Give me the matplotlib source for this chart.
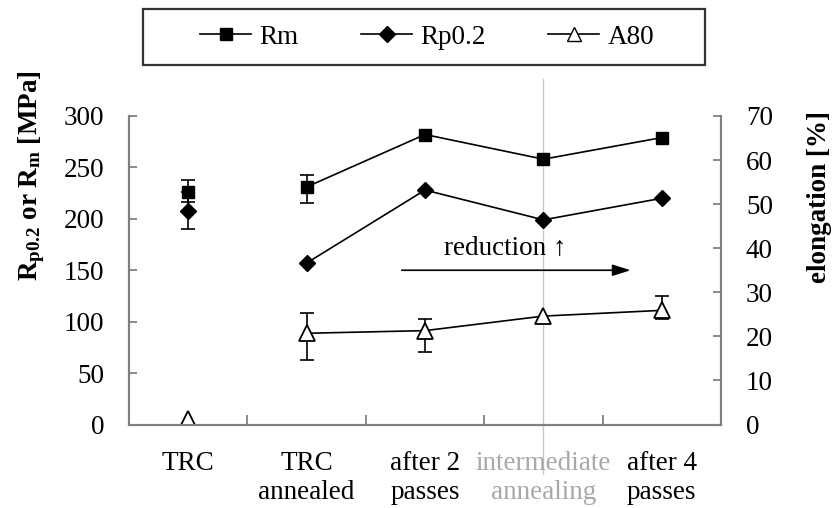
import matplotlib
matplotlib.use("Agg")
import matplotlib.pyplot as plt
from matplotlib.lines import Line2D
from matplotlib.patches import Rectangle
import numpy as np

plt.rcParams['font.family'] = ['Liberation Serif', 'DejaVu Serif']
plt.rcParams['mathtext.fontset'] = 'custom'
plt.rcParams['mathtext.rm'] = 'Liberation Serif'
plt.rcParams['mathtext.bf'] = 'Liberation Serif:bold'

# categories (x axis)
categories = ["TRC", "TRC\nannealed", "after 2\npasses", "intermediate\nannealing", "after 4\npasses"]

# strength [MPa], left axis (error bars: below / above)
rm = [226, 231, 282, 258, 279]
rm_err_lo = [10, 16, 0, 0, 0]
rm_err_hi = [12, 12, 0, 0, 0]
rp02 = [208, 157, 228, 199, 220]
rp02_err_lo = [18, 0, 0, 0, 0]
rp02_err_hi = [18, 0, 0, 0, 0]

# elongation [%], right axis
a80 = [1.2, 20.7, 21.3, 24.6, 25.9]
a80_err_lo = [0, 6.1, 4.9, 0, 2.0]
a80_err_hi = [0, 4.5, 2.7, 0, 3.2]

left_ticks = [0, 50, 100, 150, 200, 250, 300]
right_ticks = [0, 10, 20, 30, 40, 50, 60, 70]

FS = 19.5
axis_grey = "#808080"
err_kw = dict(fmt="none", ecolor="black", elinewidth=1.2, capsize=5, capthick=1.2)

fig = plt.figure(figsize=(8.4, 5.08), dpi=100)
ax = fig.add_axes([129 / 840, 1 - 424.5 / 508, 592 / 840, 308.5 / 508])
ax2 = ax.twinx()

x = np.arange(len(categories))


def draw_series(axis, vals, lo, hi, **mkw):
    vals = np.array(vals, dtype=float)
    lo = np.array(lo, dtype=float)
    hi = np.array(hi, dtype=float)
    m = (lo > 0) | (hi > 0)
    if m.any():
        axis.errorbar(x[m], vals[m], yerr=[lo[m], hi[m]], **err_kw)
    # TRC point stands alone, the rest are joined
    axis.plot(x[:1], vals[:1], ls="none", **mkw)
    axis.plot(x[1:], vals[1:], color="black", lw=1.2, **mkw)


draw_series(ax, rm, rm_err_lo, rm_err_hi, marker="s", ms=9, mfc="black", mec="black")
draw_series(ax, rp02, rp02_err_lo, rp02_err_hi, marker="D", ms=8, mfc="black", mec="black")
draw_series(ax2, a80, a80_err_lo, a80_err_hi, marker="^", ms=12, mfc="white",
            mec="black", mew=1.3)

ax.set_xlim(-0.5, len(categories) - 0.5)
ax.set_ylim(0, 300)
ax2.set_ylim(0, 70)
ax.set_yticks(left_ticks)
ax2.set_yticks(right_ticks)

# category boundaries as ticks, labels centred
ax.set_xticks(np.arange(len(categories) - 1) + 0.5)
ax.set_xticklabels([])
ax.set_xticks(x, minor=True)
ax.set_xticklabels(categories, minor=True, fontsize=FS, linespacing=1.2)
ax.tick_params(axis="x", which="minor", length=0, pad=19)
ax.tick_params(axis="x", which="major", direction="in", length=7, color=axis_grey, width=1.3)
ax.get_xticklabels(minor=True)[3].set_color("#a8a8a8")

ax.tick_params(axis="y", direction="in", length=6, color=axis_grey, width=1.3,
               labelsize=FS, pad=18)
ax2.tick_params(axis="y", direction="in", length=6, color=axis_grey, width=1.3,
                labelsize=FS, pad=18)

for a in (ax, ax2):
    a.spines["top"].set_visible(False)
    for s in ("left", "right", "bottom"):
        a.spines[s].set_color(axis_grey)
        a.spines[s].set_linewidth(1.5)

# vertical marker at intermediate annealing
ax.axvline(3, ymin=-0.16, ymax=1.12, color="#c8c8c8", lw=1.0, clip_on=False, zorder=0)

# reduction arrow
ax.annotate("", xy=(3.76, 150), xytext=(1.78, 150),
            arrowprops=dict(arrowstyle="-|>,head_length=1.1,head_width=0.35",
                            color="black", lw=1.2))
ax.text(2.68, 172, "reduction \u2191", fontsize=FS, ha="center", va="center")

# axis titles
fig.text(32 / 840, 1 - 176 / 508, r"$\mathbf{R_{p0.2}}$ or $\mathbf{R_m}$ [MPa]",
         fontsize=FS, fontweight="bold", rotation=90, ha="center", va="center")
fig.text(820 / 840, 1 - 197 / 508, "elongation [%]", fontsize=FS,
         fontweight="bold", rotation=90, ha="center", va="center")

# legend box
handles = [
    Line2D([], [], color="black", marker="s", ms=9, lw=1.2),
    Line2D([], [], color="black", marker="D", ms=8, lw=1.2),
    Line2D([], [], color="black", marker="^", ms=10, mfc="white", mec="black", lw=1.2),
]
fig.legend(handles, ["Rm", "Rp0.2", "A80"], ncol=3, loc="center",
           bbox_to_anchor=(427 / 840, 1 - 37 / 508), fontsize=FS, frameon=False,
           handlelength=1.9, handletextpad=0.3, columnspacing=2.3)
fig.patches.append(Rectangle((143 / 840, 1 - 65 / 508), 562 / 840, 56 / 508,
                             transform=fig.transFigure, fill=False,
                             edgecolor="#333333", lw=1.6))

fig.savefig("out.png", dpi=100)
